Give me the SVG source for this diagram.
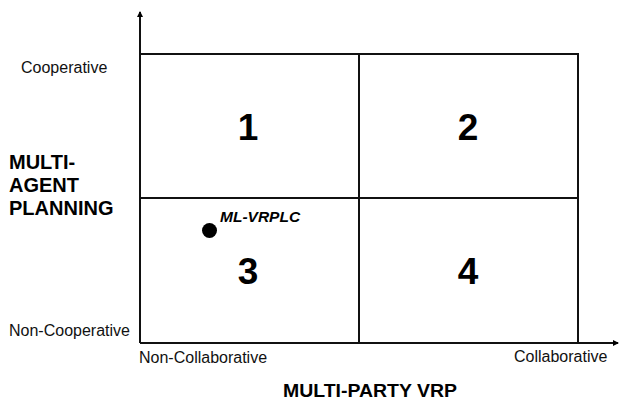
<svg xmlns="http://www.w3.org/2000/svg" width="619" height="399" viewBox="0 0 619 399">
<defs>
<marker id="arr" viewBox="0 0 6 6" refX="5" refY="3" markerWidth="6" markerHeight="6" markerUnits="userSpaceOnUse" orient="auto">
<path d="M0,0 L6,3 L0,6 z" fill="#000"/>
</marker>
<style>
.ln{stroke:#111;stroke-width:2;fill:none}
.lbl{font-family:"Liberation Sans",Arial,sans-serif;font-size:16px;fill:#111}
.num{font-family:"Liberation Sans",Arial,sans-serif;font-size:37px;font-weight:bold;fill:#000;text-anchor:middle}
.ttl{font-family:"Liberation Sans",Arial,sans-serif;font-size:20px;font-weight:bold;fill:#000}
</style>
</defs>
<rect width="619" height="399" fill="#fff"/>
<g id="connectors">
<line class="ln" x1="140" y1="343" x2="140" y2="12" marker-end="url(#arr)"/>
<line class="ln" x1="140" y1="343" x2="618" y2="343" marker-end="url(#arr)"/>
</g>
<g id="grid">
<path class="ln" d="M140,54 H578 V343 M359,54 V343 M140,198 H578"/>
</g>
<g id="q1"><text class="num" x="248" y="140">1</text></g>
<g id="q2"><text class="num" x="468" y="140">2</text></g>
<g id="q3"><text class="num" x="248" y="284">3</text></g>
<g id="q4"><text class="num" x="468" y="284">4</text></g>
<g id="point">
<circle cx="209.5" cy="230.5" r="7.5" fill="#000"/>
<text x="220" y="222" style="font-family:'Liberation Sans',Arial,sans-serif;font-size:15.5px;font-weight:bold;font-style:italic">ML-VRPLC</text>
</g>
<g id="labels">
<text class="lbl" x="21" y="72.5">Cooperative</text>
<text class="lbl" x="9" y="335.5">Non-Cooperative</text>
<text class="lbl" x="139" y="363">Non-Collaborative</text>
<text class="lbl" x="514" y="361.5">Collaborative</text>
<text class="ttl" x="9" y="169">MULTI-</text>
<text class="ttl" x="9" y="192">AGENT</text>
<text class="ttl" x="9" y="215">PLANNING</text>
<text class="ttl" x="283" y="397" style="font-size:19px" textLength="174" lengthAdjust="spacingAndGlyphs">MULTI-PARTY VRP</text>
</g>
</svg>
